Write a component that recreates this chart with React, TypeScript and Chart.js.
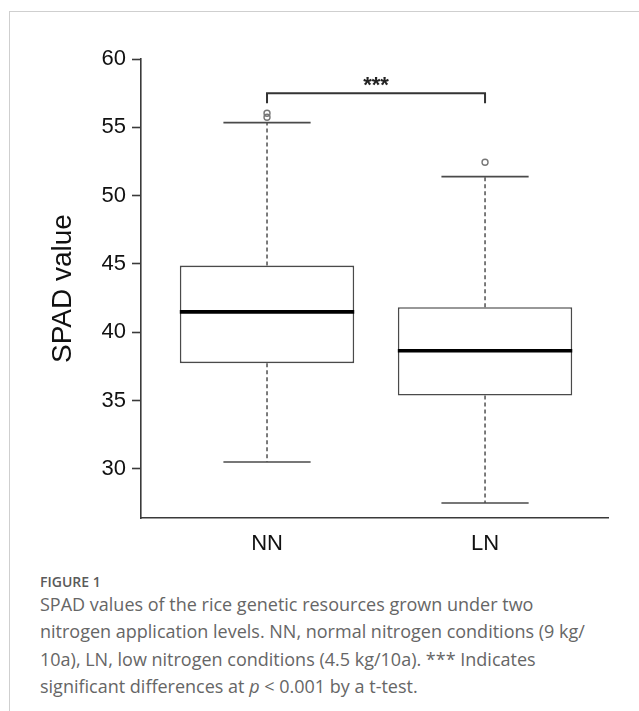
import React, { useEffect, useRef } from "react";
import { Chart, registerables } from "chart.js";

Chart.register(...registerables);

// ---- data ----
const CATEGORIES = ["NN", "LN"];
const X_POS = [1, 2];
const LOWER_WHISKER = [30.5, 27.5];
const Q1 = [37.73, 35.36];
const MEDIAN = [41.49, 38.64];
const Q3 = [44.88, 41.83];
const UPPER_WHISKER = [55.34, 51.39];
const OUTLIERS_NN = [55.74, 56.03];
const OUTLIERS_LN = [52.44];
const Y_TICKS = [30, 35, 40, 45, 50, 55, 60];
const Y_MIN = 26.4;
const Y_MAX = 60;
const X_MIN = 0.422;
const X_MAX = 2.564;
const SIG_LABEL = "***";
const SIG_BAR_Y = 57.49;
const SIG_DROP_Y = 56.76;
const SIG_TEXT_Y = 57.62;

const FONT = "'Liberation Sans', Arial, Helvetica, sans-serif";

const boxExtras = {
  id: "boxExtras",
  afterDatasetsDraw(chart: any) {
    const { ctx, scales } = chart;
    const x = scales.x;
    const y = scales.y;
    const meta = chart.getDatasetMeta(0);
    const line = (x1: number, y1: number, x2: number, y2: number) => {
      ctx.beginPath();
      ctx.moveTo(x1, y1);
      ctx.lineTo(x2, y2);
      ctx.stroke();
    };
    ctx.save();
    CATEGORIES.forEach((_, i) => {
      const el = meta.data[i];
      const cx = x.getPixelForValue(X_POS[i]);
      const half = el.width / 2;
      const capHalf = half / 2;
      // whiskers
      ctx.strokeStyle = "#444";
      ctx.lineWidth = 1.4;
      ctx.setLineDash([4, 3]);
      line(cx, y.getPixelForValue(Q3[i]), cx, y.getPixelForValue(UPPER_WHISKER[i]));
      line(cx, y.getPixelForValue(Q1[i]), cx, y.getPixelForValue(LOWER_WHISKER[i]));
      ctx.setLineDash([]);
      // caps
      ctx.lineWidth = 1.6;
      ctx.strokeStyle = "#4a4a4a";
      const yHi = y.getPixelForValue(UPPER_WHISKER[i]);
      const yLo = y.getPixelForValue(LOWER_WHISKER[i]);
      line(cx - capHalf, yHi, cx + capHalf, yHi);
      line(cx - capHalf, yLo, cx + capHalf, yLo);
      // median
      ctx.strokeStyle = "#000";
      ctx.lineWidth = 3.6;
      const ym = y.getPixelForValue(MEDIAN[i]);
      line(el.x - half, ym, el.x + half, ym);
    });
    // significance bracket
    const xa = x.getPixelForValue(X_POS[0]);
    const xb = x.getPixelForValue(X_POS[1]);
    const yb = y.getPixelForValue(SIG_BAR_Y);
    const yd = y.getPixelForValue(SIG_DROP_Y);
    ctx.strokeStyle = "#333";
    ctx.lineWidth = 2;
    ctx.beginPath();
    ctx.moveTo(xa, yd);
    ctx.lineTo(xa, yb);
    ctx.lineTo(xb, yb);
    ctx.lineTo(xb, yd);
    ctx.stroke();
    ctx.fillStyle = "#222";
    ctx.font = `bold 22px ${FONT}`;
    ctx.textAlign = "center";
    ctx.textBaseline = "alphabetic";
    ctx.fillText(SIG_LABEL, (xa + xb) / 2, y.getPixelForValue(SIG_TEXT_Y));
    ctx.restore();
  },
};

export default function App() {
  const ref = useRef<HTMLCanvasElement>(null);

  useEffect(() => {
    const canvas = ref.current;
    if (!canvas) return;
    const chart = new Chart(canvas, {
      type: "bar",
      data: {
        datasets: [
          {
            type: "bar",
            data: CATEGORIES.map((_, i) => ({ x: X_POS[i], y: [Q1[i], Q3[i]] })) as any,
            backgroundColor: "#ffffff",
            borderColor: "#4a4a4a",
            borderWidth: 1.6,
            borderSkipped: false,
            categoryPercentage: 1,
            barPercentage: 0.8,
          } as any,
          {
            type: "scatter",
            data: [
              ...OUTLIERS_NN.map((v) => ({ x: X_POS[0], y: v })),
              ...OUTLIERS_LN.map((v) => ({ x: X_POS[1], y: v })),
            ],
            pointRadius: 3,
            pointBorderColor: "#777",
            pointBackgroundColor: "rgba(255,255,255,0)",
            pointBorderWidth: 1.4,
            showLine: false,
          } as any,
        ],
      },
      options: {
        responsive: false,
        animation: false,
        devicePixelRatio: 1,
        layout: { padding: { left: 40, top: 59, right: 31, bottom: 0 } },
        plugins: { legend: { display: false }, tooltip: { enabled: false } },
        scales: {
          x: {
            type: "linear",
            min: X_MIN,
            max: X_MAX,
            offset: false,
            afterBuildTicks: (s: any) => {
              s.ticks = X_POS.map((v) => ({ value: v }));
            },
            afterFit: (s: any) => {
              s.height = 42;
            },
            grid: { display: false, drawTicks: false, offset: false },
            border: { display: true, color: "#3a3a3a", width: 1.6 },
            ticks: {
              color: "#111",
              padding: 13,
              maxRotation: 0,
              autoSkip: false,
              font: { family: FONT, size: 22 },
              callback: (v: any) => CATEGORIES[X_POS.indexOf(Number(v))] ?? "",
            },
          },
          y: {
            type: "linear",
            min: Y_MIN,
            max: Y_MAX,
            afterBuildTicks: (s: any) => {
              s.ticks = Y_TICKS.map((v) => ({ value: v }));
            },
            afterFit: (s: any) => {
              s.width = 101;
            },
            grid: {
              display: true,
              drawOnChartArea: false,
              drawTicks: true,
              tickLength: 9,
              tickColor: "#3a3a3a",
              tickWidth: 1.6,
            },
            border: { display: true, color: "#3a3a3a", width: 1.6 },
            ticks: {
              color: "#111",
              padding: 6,
              font: { family: FONT, size: 22 },
              callback: (v: any) => String(v),
            },
            title: {
              display: true,
              text: "SPAD value",
              color: "#111",
              font: { family: FONT, size: 28 },
              padding: { top: 6, bottom: 0 },
            },
          },
        },
      } as any,
      plugins: [boxExtras],
    });
    return () => chart.destroy();
  }, []);

  return (
    <div style={{ position: "absolute", left: 0, top: 0, width: 639, height: 711, overflow: "hidden", background: "#fff" }}>
      <div
        style={{
          position: "absolute",
          left: 9,
          top: 11,
          right: 0,
          bottom: 0,
          borderTop: "1px solid #cfcfcf",
          borderLeft: "1px solid #cfcfcf",
        }}
      />
      <canvas
        ref={ref}
        width={639}
        height={560}
        style={{ position: "absolute", left: 0, top: 0, width: 639, height: 560 }}
      />
      <div
        style={{
          position: "absolute",
          left: 40,
          top: 572,
          fontFamily: "'Open Sans', 'Noto Sans', sans-serif",
          fontWeight: 600,
          fontSize: 14,
          lineHeight: "20px",
          color: "#5a5a5a",
          whiteSpace: "nowrap",
        }}
      >
        FIGURE 1
      </div>
      <div
        style={{
          position: "absolute",
          left: 40,
          top: 591,
          fontFamily: "'Open Sans', 'Noto Sans', sans-serif",
          fontSize: 18,
          lineHeight: "27.3px",
          color: "#666",
          whiteSpace: "nowrap",
        }}
      >
        SPAD values of the rice genetic resources grown under two
        <br />
        nitrogen application levels. NN, normal nitrogen conditions (9 kg/
        <br />
        10a), LN, low nitrogen conditions (4.5 kg/10a). *** Indicates
        <br />
        significant differences at <i>p</i> &lt; 0.001 by a t-test.
      </div>
    </div>
  );
}
